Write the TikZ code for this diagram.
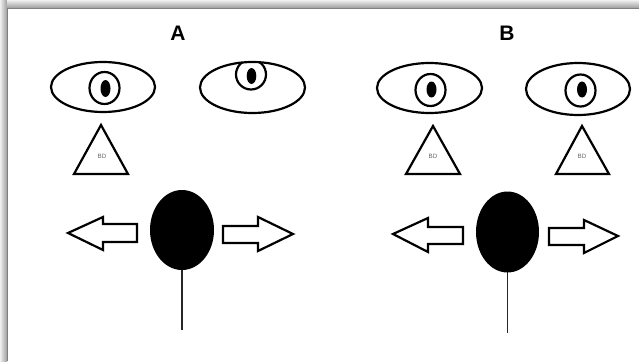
\documentclass[tikz,border=0pt]{standalone}
\usepackage{fontspec}
\setmainfont{Liberation Sans}
\begin{document}
\begin{tikzpicture}[x=1pt,y=-1pt,
  outline/.style={draw=black,line width=2.2pt,line join=miter},
  pupil/.style={fill=black},
  blob/.style={fill=black},
  stick/.style={draw=black!85,line width=1.5pt},
  panel label/.style={font=\bfseries\fontsize{21}{21}\selectfont,inner sep=0pt},
  tag/.style={font=\fontsize{6.2}{7}\selectfont,text=black!60,inner sep=0pt}]
  \useasboundingbox (0,0) rectangle (639,361);
  % frame with soft drop shadow on the top and left
  \fill[white] (0,0) rectangle (639,361);
  \shade[left color=black!6,right color=black!38] (0,0) rectangle (7,361);
  \shade[top color=black!6,bottom color=black!38] (7,0) rectangle (639,8);
  \draw[black!50,line width=0.6pt] (7,361) -- (7,8) -- (639,8);

  % panel titles
  \node[panel label] (la) at (178,33.5) {A};
  \node[panel label] (lb) at (507,33.5) {B};

  % panel A, left eye: centred gaze
  \draw[outline] (103,87) ellipse [x radius=52,y radius=25];
  \draw[outline] (104.5,88) ellipse [x radius=15,y radius=16];
  \fill[pupil] (105.5,88.5) ellipse [x radius=5,y radius=8.5];

  % panel A, right eye: gaze turned up
  \draw[outline] (252.5,87.5) ellipse [x radius=52.5,y radius=25.5];
  \begin{scope}
    \clip (252.5,87.5) ellipse [x radius=52.5,y radius=25.5];
    \draw[outline] (251,74.5) circle [radius=15];
  \end{scope}
  \fill[pupil] (251.5,76) ellipse [x radius=4.8,y radius=8];

  % panel B, both eyes centred
  \draw[outline] (429.5,88) ellipse [x radius=52.5,y radius=25];
  \draw[outline] (430.5,90) ellipse [x radius=15,y radius=16];
  \fill[pupil] (431.5,89.5) ellipse [x radius=5,y radius=8];
  \draw[outline] (578,89) ellipse [x radius=52,y radius=26];
  \draw[outline] (580.5,90.5) ellipse [x radius=15,y radius=16];
  \fill[pupil] (582,89.5) ellipse [x radius=5,y radius=8];

  % triangles marked BD
  \draw[outline] (101,125) -- (128,174) -- (74,174) -- cycle;
  \node[tag] (bd1) at (102,156) {BD};
  \draw[outline] (433,126) -- (460,174) -- (406,174) -- cycle;
  \node[tag] (bd2) at (433,156) {BD};
  \draw[outline] (582,126) -- (609,174) -- (556,174) -- cycle;
  \node[tag] (bd3) at (582,156) {BD};

  % panel A: head on a stick with arrows either side
  \draw[stick] (182,268) -- (182,330);
  \fill[blob] (182,230) ellipse [x radius=32,y radius=40];
  \draw[outline] (68,233) -- (103,217) -- (103,224) -- (137,224) -- (137,242)
     -- (103,242) -- (103,250) -- cycle;
  \draw[outline] (223,226) -- (258,226) -- (258,217) -- (293,234) -- (258,251)
     -- (258,243) -- (223,243) -- cycle;

  % panel B: head on a stick with arrows either side
  \draw[stick] (507.5,270) -- (507.5,333);
  \fill[blob] (507.5,232) ellipse [x radius=31.5,y radius=40.5];
  \draw[outline] (393,234) -- (428,218) -- (428,227) -- (463,227) -- (463,244)
     -- (428,244) -- (428,252) -- cycle;
  \draw[outline] (549,228) -- (584,228) -- (584,220) -- (618,236) -- (584,253)
     -- (584,245) -- (549,245) -- cycle;
\end{tikzpicture}
\end{document}
